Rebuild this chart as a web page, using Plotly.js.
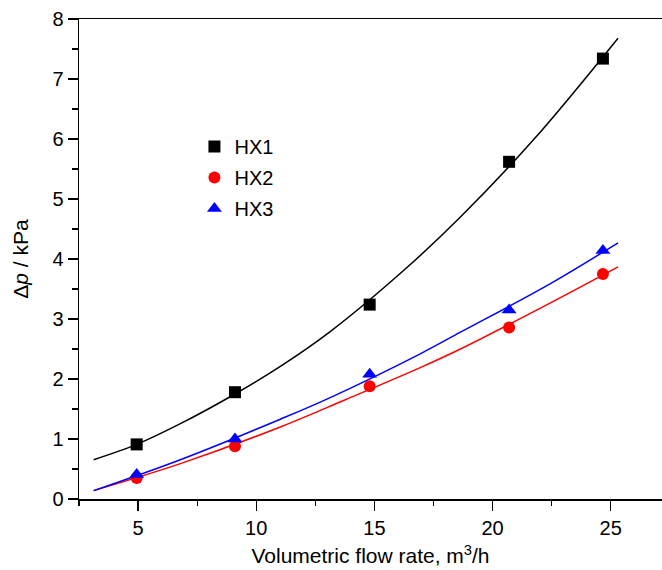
<!DOCTYPE html>
<html>
<head>
<meta charset="utf-8">
<script src="https://cdn.plot.ly/plotly-3.0.1.min.js"></script>
<style>html,body{margin:0;padding:0;background:#fff;}#chart{width:662px;height:570px;}</style>
</head>
<body>
<div id="chart"></div>
<script>
// Measured points
const seriesNames = ["HX1", "HX2", "HX3"];
const flowHX1 = [4.94, 9.10, 14.80, 20.70, 24.67];
const dpHX1 = [0.91, 1.78, 3.24, 5.62, 7.34];
const flowHX2 = [4.94, 9.10, 14.80, 20.70, 24.67];
const dpHX2 = [0.35, 0.88, 1.88, 2.86, 3.75];
const flowHX3 = [4.94, 9.10, 14.80, 20.70, 24.67];
const dpHX3 = [0.41, 1.00, 2.08, 3.15, 4.14];

// Fitted curves (positions)
const fitXHX1 = [3.12, 4.94, 6.79, 9.10, 11.02, 13.13, 16.27, 18.64, 21.74, 25.31];
const fitHX1 = [0.655, 0.91, 1.255, 1.75, 2.21, 2.79, 3.82, 4.70, 5.99, 7.68];
const fitXHX2 = [3.12, 6.79, 11.02, 13.77, 16.94, 18.64, 22.45, 25.31];
const fitHX2 = [0.14, 0.59, 1.20, 1.655, 2.19, 2.50, 3.27, 3.87];
const fitXHX3 = [3.12, 6.79, 11.02, 13.13, 16.94, 18.64, 22.45, 25.31];
const fitHX3 = [0.14, 0.655, 1.33, 1.69, 2.42, 2.78, 3.59, 4.27];

const xTickVals = [5, 10, 15, 20, 25];
const yTickVals = [0, 1, 2, 3, 4, 5, 6, 7, 8];

const colors = ["#000000", "#ff0000", "#0000ff"];
const symbols = ["square", "circle", "triangle-up"];

const fitXs = [fitXHX1, fitXHX2, fitXHX3];
const fits = [fitHX1, fitHX2, fitHX3];
const xs = [flowHX1, flowHX2, flowHX3];
const ys = [dpHX1, dpHX2, dpHX3];

const traces = [];
for (let i = 0; i < 3; i++) {
  traces.push({
    x: fitXs[i], y: fits[i], mode: "lines", type: "scatter",
    line: {color: colors[i], width: 1.5, shape: "spline", smoothing: 1},
    showlegend: false, hoverinfo: "skip"
  });
}
for (let i = 0; i < 3; i++) {
  traces.push({
    x: xs[i], y: ys[i], mode: "markers", type: "scatter", name: seriesNames[i],
    legendgroup: "g" + i,
    marker: {color: colors[i], symbol: symbols[i], size: i === 2 ? 13 : 12, line: {width: 0}}
  });
}

const font = {family: "Arial, 'Liberation Sans', sans-serif", size: 20, color: "#000"};
const titleFont = {family: "Arial, 'Liberation Sans', sans-serif", size: 21, color: "#000"};

const layout = {
  width: 662, height: 570,
  margin: {l: 79, r: 0, t: 19, b: 71},
  paper_bgcolor: "#fff", plot_bgcolor: "#fff",
  font: font,
  showlegend: true,
  legend: {x: 0.198, y: 0.775, xanchor: "left", yanchor: "top", traceorder: "grouped",
           bgcolor: "rgba(0,0,0,0)", font: font, tracegroupgap: 2, itemwidth: 30},
  xaxis: {
    range: [2.5, 27.17], tickvals: xTickVals, ticks: "outside", ticklen: 10, tickwidth: 1.3,
    tickcolor: "#000", showline: true, linecolor: "#000", linewidth: 1.5, mirror: true,
    showgrid: false, zeroline: false, tickfont: font,
    minor: {dtick: 2.5, tick0: 0, ticks: "outside", ticklen: 5, tickwidth: 1.3, tickcolor: "#000", showgrid: false},
    title: {text: "Volumetric flow rate, m<sup>3</sup>/h", font: titleFont, standoff: 11}
  },
  yaxis: {
    range: [0, 8], tickvals: yTickVals, ticks: "outside", ticklen: 10, tickwidth: 1.3,
    tickcolor: "#000", showline: true, linecolor: "#000", linewidth: 1.5,
    showgrid: false, zeroline: false, tickfont: font,
    minor: {dtick: 0.5, tick0: 0, ticks: "outside", ticklen: 6, tickwidth: 1.3, tickcolor: "#000", showgrid: false},
    title: {text: "Δ<i>p</i> / kPa", font: titleFont, standoff: 18}
  }
};

Plotly.newPlot("chart", traces, layout, {displayModeBar: false, staticPlot: true});
</script>
</body>
</html>
